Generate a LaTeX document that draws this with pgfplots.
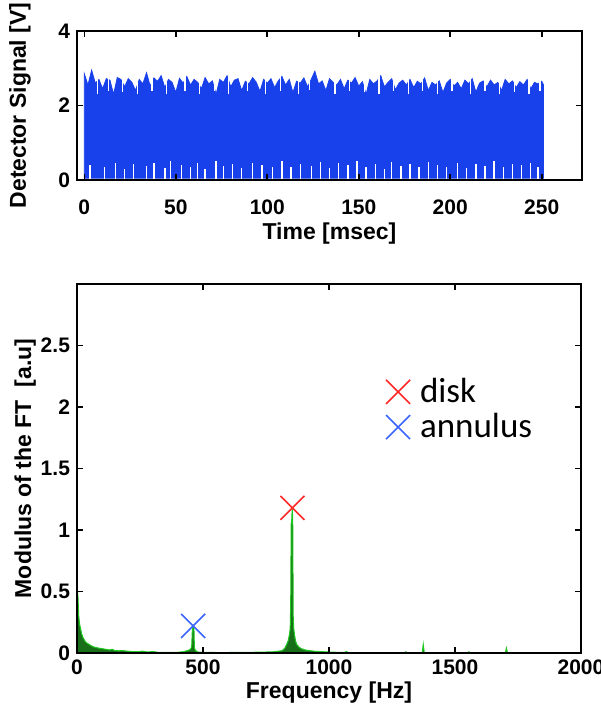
\documentclass[border=0pt]{standalone}
\usepackage{fontspec}
\setmainfont{Liberation Sans}
\newfontfamily\legendfont{Carlito}
\usepackage{pgfplots}
\pgfplotsset{compat=1.18}
\definecolor{sigblue}{RGB}{25,65,235}
\definecolor{ftdark}{RGB}{25,110,25}
\definecolor{ftline}{RGB}{30,200,30}
\definecolor{diskred}{RGB}{255,40,40}
\definecolor{annblue}{RGB}{60,100,255}

\pgfplotsset{
  matlab/.style={
    scale only axis,
    axis on top,
    axis line style={line width=1.1pt},
    tick style={black, line width=0.8pt},
    major tick length=3pt,
    tick align=inside,
    xtick pos=both, ytick pos=both,
    /pgf/number format/assume math mode=true,
    /pgf/number format/1000 sep={},
    tick label style={font=\bfseries\fontsize{10.5}{12}\selectfont},
    label style={font=\bfseries\fontsize{11.5}{13}\selectfont},
  },
  crossmark/.style={only marks, mark=x, mark size=8.5pt, line width=0.8pt},
}

\begin{document}
\begin{tikzpicture}
% bottom panel: spectrum
\begin{axis}[matlab,
  at={(0pt,0pt)}, anchor=south west,
  width=252pt, height=184.5pt,
  xmin=0, xmax=2000, ymin=0, ymax=3,
  xtick={0,500,1000,1500,2000},
  ytick={0,0.5,1,1.5,2,2.5},
  yticklabels={0,0.5,1,1.5,2,2.5},
  xlabel={Frequency [Hz]},
  ylabel={Modulus of the FT\ \ [a.u]},
  xlabel style={at={(axis description cs:0.5,-0.106)}, anchor=center},
  ylabel style={at={(axis description cs:-0.103,0.5)}, anchor=center},
  legend style={draw=none, fill=none, at={(axis cs:1201,1.98)}, anchor=west,
    font=\legendfont\fontsize{17.5}{19}\selectfont, row sep=0pt,
    /tikz/every odd column/.append style={column sep=3pt}},
  legend cell align=left,
]
\addplot[draw=ftline, fill=ftdark, line width=0.5pt, forget plot] coordinates {
(0,0)(1,0.52)(4,0.45)(7,0.3)(10,0.24)(14,0.2)(18,0.16)(23,0.13)(28,0.11)
(34,0.09)(40,0.08)(48,0.07)(56,0.06)(65,0.05)(75,0.045)(85,0.04)(100,0.035)
(115,0.03)(130,0.025)(140,0.03)(150,0.02)(165,0.018)(180,0.02)(200,0.015)
(220,0.012)(240,0.01)(260,0.015)(280,0.008)(300,0.012)(320,0.006)(350,0.005)
(380,0.004)(400,0.006)(420,0.01)(440,0.02)(450,0.03)(455,0.05)(458,0.2)
(461,0.22)(464,0.2)(466,0.04)(470,0.02)(480,0.008)(500,0.005)(550,0.004)
(600,0.004)(650,0.005)(700,0.006)(750,0.008)(780,0.01)(800,0.015)(815,0.02)
(825,0.04)(832,0.07)(838,0.1)(843,0.15)(846,0.2)(848,0.4)(850,1.05)(852,1.08)
(854,1.17)(856,1.1)(858,0.3)(860,0.2)(863,0.15)(867,0.1)(872,0.07)(880,0.05)
(890,0.035)(905,0.025)(920,0.02)(940,0.015)(960,0.012)(980,0.01)(1000,0.008)
(1040,0.005)(1060,0.004)(1070,0.012)(1075,0.004)(1100,0.003)(1200,0.003)
(1300,0.004)(1305,0.01)(1310,0.003)(1370,0.004)(1374,0.07)(1378,0.004)
(1450,0.003)(1550,0.003)(1555,0.01)(1560,0.003)(1700,0.003)(1704,0.04)
(1708,0.003)(2000,0.002)(2000,0)
} \closedcycle;
\addplot[crossmark, diskred] coordinates {(855,1.18)};
\addlegendentry{disk}
\addplot[crossmark, annblue] coordinates {(461,0.22)};
\addlegendentry{annulus}
\end{axis}

% top panel: detector signal
\begin{axis}[matlab,
  at={(0pt,236.5pt)}, anchor=south west,
  width=252.5pt, height=74.5pt,
  xmin=-4, xmax=272, ymin=0, ymax=4,
  xtick={0,50,100,150,200,250},
  ytick={0,2,4},
  xticklabel style={yshift=-6.5pt},
  xlabel={Time [msec]},
  ylabel={Detector Signal [V]},
  xlabel style={at={(axis description cs:0.5,-0.36)}, anchor=center},
  ylabel style={at={(axis description cs:-0.113,0.5)}, anchor=center},
]
\addplot[draw=sigblue, fill=sigblue, line width=0.4pt] coordinates {
(0,0.05)
(0,2.85)(2,2.55)(4,2.95)(6,2.60)(8,2.70)(10,2.45)(12,2.72)(14,2.68)(16,2.30)(18,2.75)
(20,2.70)(22,2.50)(24,2.72)(26,2.62)(28,2.40)(30,2.70)(32,2.58)(34,2.88)(36,2.52)(38,2.74)
(40,2.65)(42,2.80)(44,2.48)(46,2.70)(48,2.62)(50,2.35)(52,2.73)(54,2.60)(56,2.78)(58,2.55)
(60,2.70)(62,2.62)(64,2.45)(66,2.75)(68,2.58)(70,2.66)(72,2.30)(74,2.70)(76,2.62)(78,2.80)
(80,2.50)(82,2.68)(84,2.72)(86,2.40)(88,2.65)(90,2.58)(92,2.75)(94,2.62)(96,2.38)(98,2.70)
(100,2.60)(102,2.72)(104,2.48)(106,2.66)(108,2.78)(110,2.55)(112,2.70)(114,2.35)(116,2.65)(118,2.60)
(120,2.74)(122,2.50)(124,2.70)(126,2.92)(128,2.58)(130,2.66)(132,2.40)(134,2.72)(136,2.62)(138,2.55)
(140,2.70)(142,2.45)(144,2.68)(146,2.60)(148,2.75)(150,2.52)(152,2.64)(154,2.30)(156,2.70)(158,2.58)
(160,2.66)(162,2.80)(164,2.50)(166,2.62)(168,2.72)(170,2.42)(172,2.60)(174,2.68)(176,2.55)(178,2.70)
(180,2.48)(182,2.65)(184,2.58)(186,2.74)(188,2.40)(190,2.62)(192,2.55)(194,2.66)(196,2.35)(198,2.60)
(200,2.70)(202,2.52)(204,2.62)(206,2.45)(208,2.68)(210,2.58)(212,2.72)(214,2.36)(216,2.60)(218,2.66)
(220,2.50)(222,2.68)(224,2.55)(226,2.62)(228,2.40)(230,2.70)(232,2.58)(234,2.66)(236,2.48)(238,2.64)
(240,2.55)(242,2.70)(244,2.45)(246,2.62)(248,2.58)(250,2.65)
(251,2.55)(251,0.05)
} -- cycle;
% thin white gaps reaching down from the top of the band
\addplot[draw=none, mark=none, forget plot,
  error bars/.cd, y dir=plus, y explicit,
  error bar style={white, line width=0.6pt}, error mark=none]
  coordinates {
(7,2.3) +- (0,0.8) (13,2.4) +- (0,0.8) (21,2.35) +- (0,0.8) (29,2.3) +- (0,0.8)
(37,2.4) +- (0,0.8) (45,2.3) +- (0,0.8) (55,2.4) +- (0,0.8) (63,2.32) +- (0,0.8)
(71,2.4) +- (0,0.8) (79,2.3) +- (0,0.8) (89,2.38) +- (0,0.8) (99,2.3) +- (0,0.8)
(107,2.4) +- (0,0.8) (117,2.3) +- (0,0.8) (123,2.42) +- (0,0.8) (137,2.3) +- (0,0.8)
(145,2.4) +- (0,0.8) (153,2.35) +- (0,0.8) (161,2.3) +- (0,0.8) (169,2.4) +- (0,0.8)
(177,2.3) +- (0,0.8) (185,2.4) +- (0,0.8) (193,2.3) +- (0,0.8) (201,2.38) +- (0,0.8)
(211,2.3) +- (0,0.8) (219,2.4) +- (0,0.8) (227,2.3) +- (0,0.8) (235,2.36) +- (0,0.8)
(243,2.3) +- (0,0.8) (249,2.4) +- (0,0.8)
};
\addplot[white, ycomb, line width=0.7pt, forget plot] coordinates {
(3,0.4)(11,0.35)(17,0.45)(22,0.3)(27,0.42)(34,0.38)(38,0.45)(44,0.32)(47,0.5)
(53,0.4)(58,0.35)(62,0.46)(66,0.3)(72,0.5)(76,0.38)(81,0.42)(86,0.33)(92,0.46)
(97,0.4)(103,0.36)(108,0.5)(113,0.34)(118,0.44)(124,0.38)(129,0.48)(134,0.32)
(139,0.45)(144,0.4)(149,0.5)(154,0.36)(159,0.42)(164,0.3)(168,0.47)(173,0.38)
(178,0.44)(183,0.34)(188,0.48)(193,0.4)(198,0.36)(204,0.46)(209,0.32)(214,0.44)
(219,0.38)(224,0.5)(229,0.35)(234,0.42)(239,0.4)(244,0.46)(248,0.36)
};
\end{axis}
\pgfresetboundingbox
\path (-38.5pt,-31.5pt) rectangle (261.5pt,326.5pt);
\end{tikzpicture}
\end{document}
